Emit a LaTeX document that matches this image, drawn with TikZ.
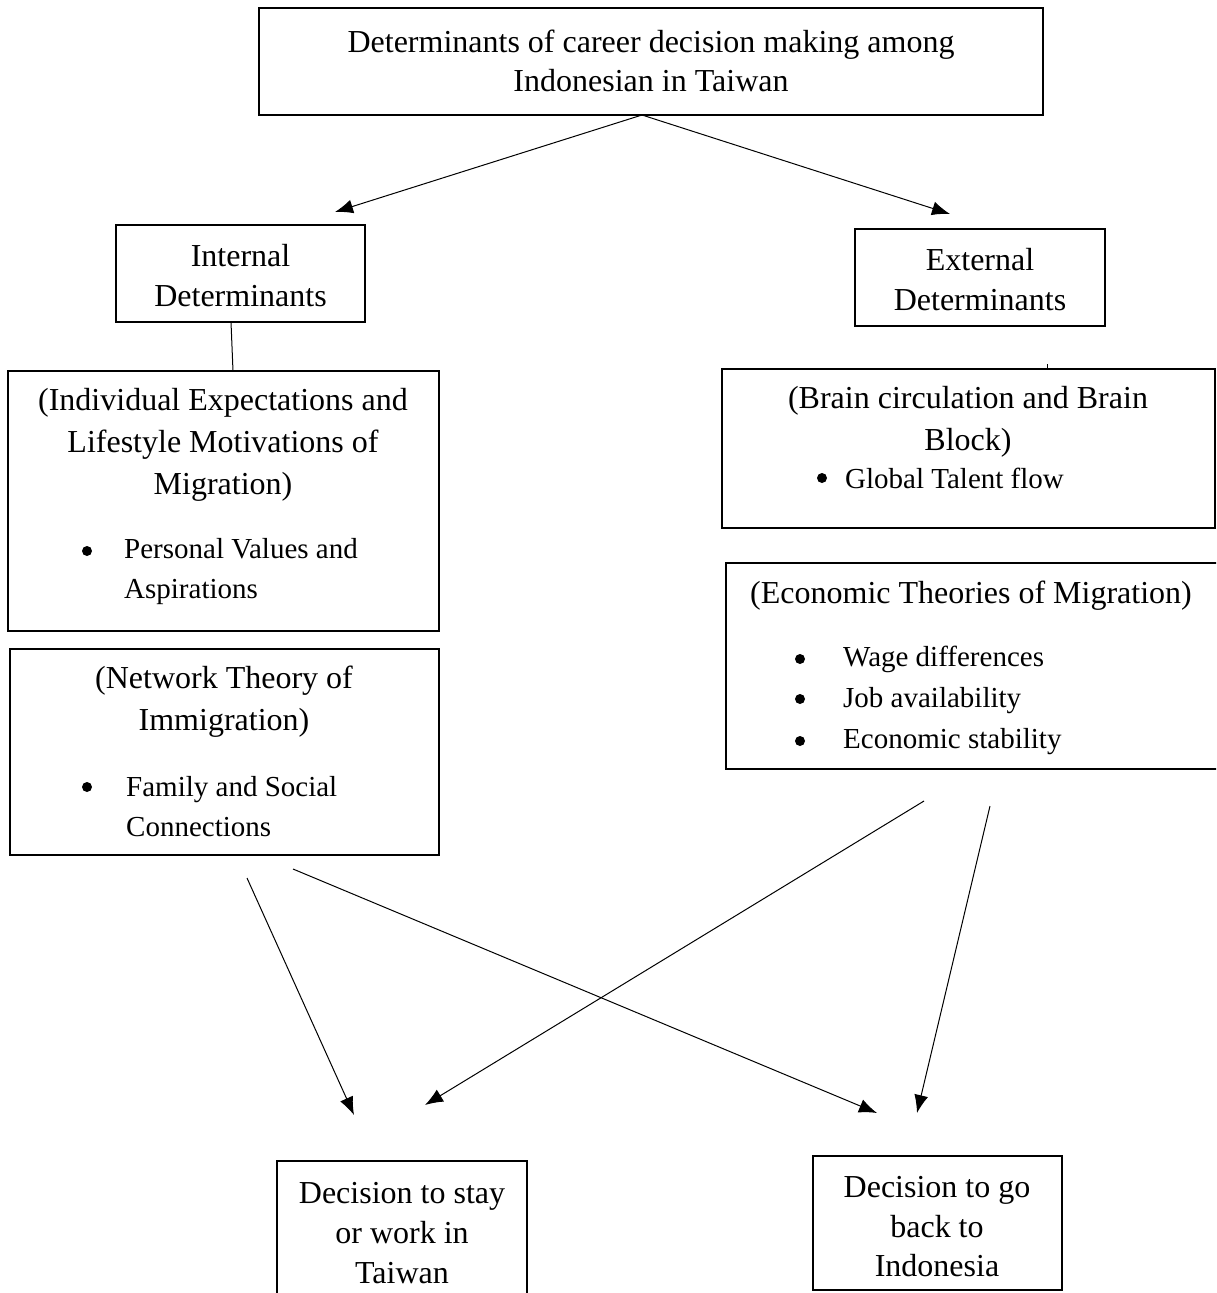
\documentclass[tikz,border=0pt]{standalone}
\usepackage{fontspec}
\setmainfont{Liberation Serif}
\usetikzlibrary{arrows.meta}
\tikzset{
  box/.style={draw, line width=1.2pt, inner sep=0pt, minimum width=#1},
  head/.style={inner sep=0pt, align=center, font=\fontsize{32}{42}\selectfont},
  lbl/.style={inner sep=0pt, align=center, font=\fontsize{32}{40}\selectfont},
  blt/.style={circle, fill=black, inner sep=0pt, minimum size=10pt},
  btxt/.style={inner sep=0pt, anchor=west, align=left, font=\fontsize{29}{40}\selectfont},
  conn/.style={line width=1pt},
  arr/.style={line width=1pt, -{Latex[length=18pt,width=14pt]}}
}
\begin{document}
\begin{tikzpicture}[x=1pt,y=-1pt]
\useasboundingbox (0,0) rectangle (1216,1293);
\clip (0,0) rectangle (1216,1293);
% boxes
\node[box=784pt, minimum height=107pt] (title) at (651,61.5) {};
\node[box=249pt, minimum height=97pt] (internal) at (240.5,273.5) {};
\node[box=250pt, minimum height=97pt] (external) at (980,277.5) {};
\node[box=431pt, minimum height=260pt] (indiv) at (223.5,501) {};
\node[box=429pt, minimum height=206pt] (network) at (224.5,752) {};
\node[box=493pt, minimum height=159pt] (brain) at (968.5,448.5) {};
\node[box=500pt, minimum height=206pt] (econ) at (976,666) {};
\node[box=250pt, minimum height=160pt] (stay) at (402,1241) {};
\node[box=249pt, minimum height=134pt] (back) at (937.5,1223) {};
% texts
\node[lbl, font=\fontsize{32}{39}\selectfont] (titletxt) at (651,60.5) {Determinants of career decision making among\\Indonesian in Taiwan};
\node[lbl] (inttxt) at (240.5,275.5) {Internal\\Determinants};
\node[lbl] (exttxt) at (980,279.5) {External\\Determinants};
\node[head] (indivtxt) at (223,445) {(Individual Expectations and\\Lifestyle Motivations of\\Migration)};
\node[blt] (b1) at (87,551) {};
\node[btxt] (indivb) at (124,572) {Personal Values and\\Aspirations};
\node[head] (nettxt) at (224,702) {(Network Theory of\\Immigration)};
\node[blt] (b2) at (87,787) {};
\node[btxt] (netb) at (126,806.5) {Family and Social\\Connections};
\node[head] (braintxt) at (968,422) {(Brain circulation and Brain\\Block)};
\node[blt] (b3) at (822,478) {};
\node[btxt] (brainb) at (845,478) {Global Talent flow};
\node[head] (econtxt) at (971,596) {(Economic Theories of Migration)};
\node[blt] (b4) at (800,659) {};
\node[blt] (b5) at (800,699) {};
\node[blt] (b6) at (800,741) {};
\node[btxt, font=\fontsize{29}{41}\selectfont] (econb) at (843,700) {Wage differences\\Job availability\\Economic stability};
\node[lbl] (staytxt) at (402,1233) {Decision to stay\\or work in\\Taiwan};
\node[lbl, font=\fontsize{32}{39.5}\selectfont] (backtxt) at (937,1227) {Decision to go\\back to\\Indonesia};
% coordinates
\coordinate (ts) at (642,115);
\coordinate (tl) at (335,212);
\coordinate (tr) at (950,214);
\coordinate (ib) at (231,322);
\coordinate (it) at (233,371);
\coordinate (tk1) at (1047,364);
\coordinate (tk2) at (1047,369);
\coordinate (a1s) at (247,878);
\coordinate (a1e) at (354,1115);
\coordinate (a2s) at (293,869);
\coordinate (a2e) at (877,1113);
\coordinate (a3s) at (924,801);
\coordinate (a3e) at (425,1105);
\coordinate (a4s) at (990,806);
\coordinate (a4e) at (917,1113);
% connectors
\draw[arr] (ts) -- (tl);
\draw[arr] (ts) -- (tr);
\draw[conn] (ib) -- (it);
\draw[conn] (tk1) -- (tk2);
\draw[arr] (a1s) -- (a1e);
\draw[arr] (a2s) -- (a2e);
\draw[arr] (a3s) -- (a3e);
\draw[arr] (a4s) -- (a4e);
\end{tikzpicture}
\end{document}
